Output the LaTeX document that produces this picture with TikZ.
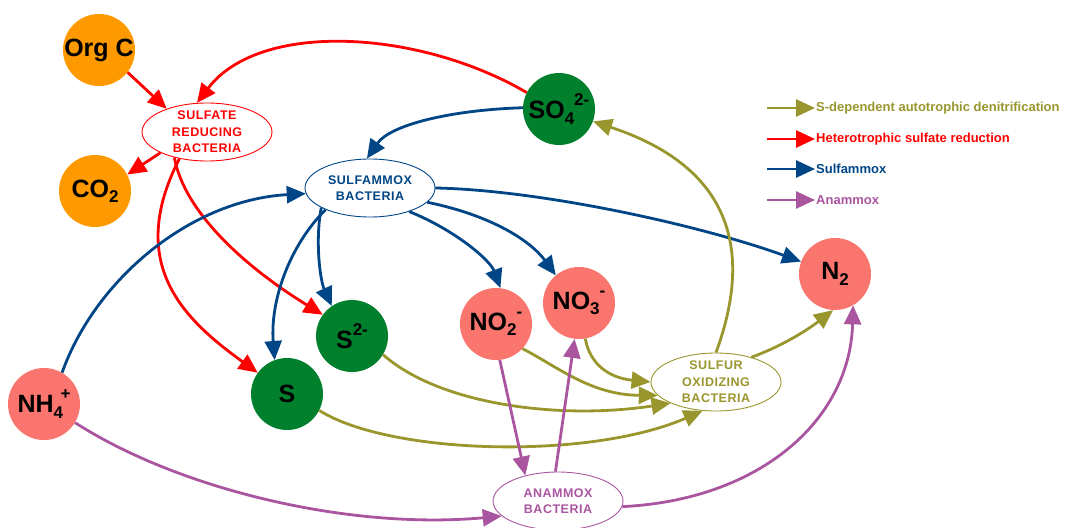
\documentclass[tikz,border=0pt]{standalone}
\usepackage{fontspec}
\setmainfont{Liberation Sans}
\usetikzlibrary{arrows.meta,shapes.geometric}
\definecolor{cOrange}{RGB}{255,153,0}
\definecolor{cSalmon}{RGB}{250,117,110}
\definecolor{cGreen}{RGB}{0,128,45}
\definecolor{cRed}{RGB}{255,0,0}
\definecolor{cBlue}{RGB}{0,69,134}
\definecolor{cOlive}{RGB}{153,150,45}
\definecolor{cPurple}{RGB}{170,85,160}
\newcommand\lo[1]{\raisebox{-0.4ex}{\fontsize{17}{17}\selectfont #1}}
\newcommand\hi[1]{\raisebox{1.0ex}{\fontsize{17}{17}\selectfont #1}}
\begin{document}
\begin{tikzpicture}[x=1pt,y=-1pt,
  chem/.style={circle, minimum size=72pt, inner sep=0pt, font=\fontsize{25}{25}\selectfont\bfseries},
  bact/.style={ellipse, draw, line width=0.9pt, fill=white, minimum width=130pt, minimum height=58pt,
    inner xsep=0pt, inner ysep=-10pt, align=center, font=\fontsize{12.5}{16.5}\selectfont\bfseries\addfontfeatures{LetterSpace=4}},
  flow/.style={line width=2.8pt, -{Triangle[length=19pt,width=17pt]}},
  legtext/.style={anchor=west, inner sep=1pt, font=\fontsize{13}{13}\selectfont\bfseries}]
\useasboundingbox (0,0) rectangle (1067,527);

% species
\node[chem, fill=cOrange] (orgc) at (99,50) {\makebox[0pt]{Org C}};
\node[chem, fill=cOrange] (co2) at (95,191) {\makebox[0pt]{CO\lo{2}}};
\node[chem, fill=cGreen] (so4) at (559,109) {\makebox[0pt]{SO\lo{4}\hi{2-}}};
\node[chem, fill=cGreen] (s2) at (352,336) {\makebox[0pt]{S\hi{2-}}};
\node[chem, fill=cGreen] (s) at (287,394) {\makebox[0pt]{S}};
\node[chem, fill=cSalmon] (nh4) at (44,404) {\makebox[0pt]{NH\lo{4}\kern-0.1em\hi{+}}};
\node[chem, fill=cSalmon] (no2) at (496,324) {\makebox[0pt]{NO\lo{2}\hi{-}}};
\node[chem, fill=cSalmon] (no3) at (579,303) {\makebox[0pt]{NO\lo{3}\hi{-}}};
\node[chem, fill=cSalmon] (n2) at (835,274) {\makebox[0pt]{N\lo{2}}};

% bacteria
\node[bact, draw=cRed, text=cRed] (srb) at (207,132) {SULFATE\\REDUCING\\BACTERIA};
\node[bact, draw=cBlue, text=cBlue] (sam) at (370,188) {SULFAMMOX\\BACTERIA};
\node[bact, draw=cOlive, text=cOlive] (sob) at (716,382) {SULFUR\\OXIDIZING\\BACTERIA};
\node[bact, draw=cPurple, text=cPurple] (anx) at (558,501) {ANAMMOX\\BACTERIA};

% heterotrophic sulfate reduction
\draw[flow, cRed] (orgc.-38) -- (srb.150);
\draw[flow, cRed] (so4.153) .. controls (420,30) and (260,20) .. (srb.109);
\draw[flow, cRed] (srb.204) -- (co2.27);
\draw[flow, cRed] (srb.224) .. controls (125,265) and (185,320) .. (s.144);
\draw[flow, cRed] (srb.218) .. controls (185,215) and (250,270) .. (s2.144);

% sulfammox
\draw[flow, cBlue] (so4.178) .. controls (450,110) and (390,125) .. (sam.96);
\draw[flow, cBlue] (nh4.60) .. controls (95,280) and (190,200) .. (sam.185);
\draw[flow, cBlue] (sam.206) .. controls (290,245) and (270,300) .. (s.110);
\draw[flow, cBlue] (sam.202) .. controls (315,240) and (320,280) .. (s2.124);
\draw[flow, cBlue] (sam.-31) .. controls (455,230) and (490,260) .. (no2.83);
\draw[flow, cBlue] (sam.-14) .. controls (490,215) and (530,240) .. (no3.130);
\draw[flow, cBlue] (sam.0) .. controls (540,190) and (700,225) .. (n2.160);

% S-dependent autotrophic denitrification
\draw[flow, cOlive] (no3.-80) .. controls (590,365) and (610,378) .. (sob.180);
\draw[flow, cOlive] (no2.-43) .. controls (555,365) and (590,395) .. (sob.193);
\draw[flow, cOlive] (s2.-31) .. controls (440,405) and (560,420) .. (sob.205);
\draw[flow, cOlive] (s.-27) .. controls (390,455) and (590,460) .. (sob.245);
\draw[flow, cOlive] (sob.90) .. controls (750,260) and (740,170) .. (so4.-20);
\draw[flow, cOlive] (sob.35) .. controls (785,345) and (810,328) .. (n2.-93);

% anammox
\draw[flow, cPurple] (nh4.-31) .. controls (180,490) and (350,530) .. (anx.195);
\draw[flow, cPurple] (no2.-84) -- (anx.142);
\draw[flow, cPurple] (anx.95) -- (no3.-97);
\draw[flow, cPurple] (anx.-5) .. controls (760,500) and (850,420) .. (n2.-60);

% legend
\node[legtext, text=cOlive] (lg1) at (815,108) {S-dependent autotrophic denitrification};
\node[legtext, text=cRed] (lg2) at (815,139) {Heterotrophic sulfate reduction};
\node[legtext, text=cBlue] (lg3) at (815,169) {Sulfammox};
\node[legtext, text=cPurple] (lg4) at (815,200) {Anammox};
\coordinate (lg1s) at (767,108);
\coordinate (lg2s) at (767,139);
\coordinate (lg3s) at (767,169);
\coordinate (lg4s) at (767,200);
\draw[flow, cOlive] (lg1s) -- (lg1.west);
\draw[flow, cRed] (lg2s) -- (lg2.west);
\draw[flow, cBlue] (lg3s) -- (lg3.west);
\draw[flow, cPurple] (lg4s) -- (lg4.west);
\end{tikzpicture}
\end{document}
